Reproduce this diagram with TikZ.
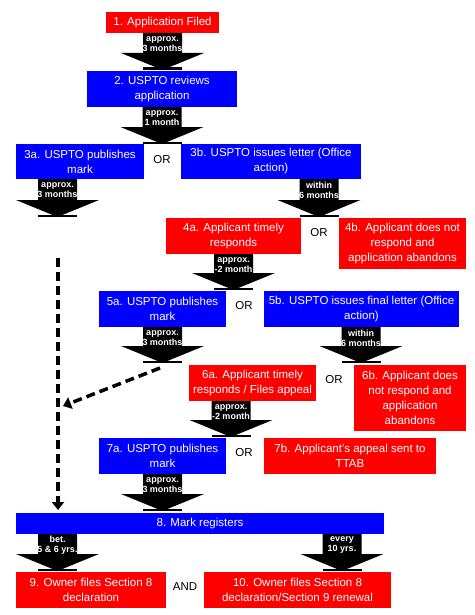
\documentclass[tikz,border=0pt]{standalone}
\usepackage{fontspec}
\setmainfont{Liberation Sans}
\usetikzlibrary{arrows.meta,calc}

\tikzset{
  box/.style={inner sep=0pt, align=center, text=white, font=\fontsize{11.5}{15}\selectfont},
  redbox/.style={box, fill=red},
  bluebox/.style={box, fill=blue},
  ortext/.style={font=\fontsize{11.5}{15}\selectfont},
  timelabel/.style={inner sep=0pt, align=center, text=white, font=\fontsize{9}{10}\selectfont\bfseries},
  dasharrow/.style={line width=3.5pt, dash pattern=on 9pt off 5pt, -{Triangle[width=12pt,length=8pt]}}
}

% block arrow from (#1) down to (#2), label #3
\newcommand{\timearrow}[3]{%
  \fill let \p1=(#1), \p2=(#2) in
    (\x1-19.5pt,\y1) -- (\x1+19.5pt,\y1) -- (\x1+19.5pt,\y2+17pt) -- (\x1+41.5pt,\y2+17pt)
    -- (\x1,\y2) -- (\x1-41.5pt,\y2+17pt) -- (\x1-19.5pt,\y2+17pt) -- cycle;
  \draw[line width=2.5pt] let \p1=(#1), \p2=(#2) in
    (\x1-19.5pt,\y2+1.25pt) -- (\x1+19.5pt,\y2+1.25pt);
  \node[timelabel] (#1-lbl) at ([yshift=-11pt]#1) {#3};}

\begin{document}
\begin{tikzpicture}[x=1pt, y=-1pt]
 \useasboundingbox (0,0) rectangle (474,615);

 % boxes
 \node[redbox,  minimum width=113pt, minimum height=21pt] (filed)   at (162.5,22.5) {1. Application Filed};
 \node[bluebox, minimum width=150pt, minimum height=36pt] (review)  at (162,89)     {2. USPTO reviews\\application};
 \node[bluebox, minimum width=128pt, minimum height=35pt] (pub3)    at (80,161.5)   {3a. USPTO publishes\\mark};
 \node[bluebox, minimum width=180pt, minimum height=35pt] (letter3) at (271,161.5)  {3b. USPTO issues letter (Office\\action)};
 \node[redbox,  minimum width=135pt, minimum height=36pt] (resp4)   at (233.5,236)  {4a. Applicant timely\\responds};
 \node[redbox,  minimum width=127pt, minimum height=51pt] (aband4)  at (402.5,243.5){4b. Applicant does not\\respond and\\application abandons};
 \node[bluebox, minimum width=127pt, minimum height=36pt] (pub5)    at (162.5,309)  {5a. USPTO publishes\\mark};
 \node[bluebox, minimum width=195pt, minimum height=36pt] (letter5) at (361.5,309)  {5b. USPTO issues final letter (Office\\action)};
 \node[redbox,  minimum width=127pt, minimum height=36pt] (resp6)   at (252.5,383)  {6a. Applicant timely\\responds / Files appeal};
 \node[redbox,  minimum width=112pt, minimum height=66pt] (aband6)  at (410,398)    {6b. Applicant does\\not respond and\\application\\abandons};
 \node[bluebox, minimum width=127pt, minimum height=36pt] (pub7)    at (162.5,456)  {7a. USPTO publishes\\mark};
 \node[redbox,  minimum width=172pt, minimum height=36pt] (ttab7)   at (350,456)    {7b. Applicant's appeal sent to\\TTAB};
 \node[bluebox, minimum width=368pt, minimum height=21pt] (reg)     at (200,523.5)  {8. Mark registers};
 \node[redbox,  minimum width=150pt, minimum height=36pt] (sec8)    at (91,590)     {9. Owner files Section 8\\declaration};
 \node[redbox,  minimum width=187pt, minimum height=36pt] (sec9)    at (297.5,590)  {10. Owner files Section 8\\declaration/Section 9 renewal};

 % or / and
 \node[ortext] (or3) at (162,160) {OR};
 \node[ortext] (or4) at (319,233) {OR};
 \node[ortext] (or5) at (244,306) {OR};
 \node[ortext] (or6) at (334,380) {OR};
 \node[ortext] (or7) at (244,453) {OR};
 \node[ortext] (and) at (185,587) {AND};

 % block arrows
 \coordinate (a1)  at (162.5,33);  \coordinate (a1t)  at (162.5,70);
 \coordinate (a2)  at (162,107);   \coordinate (a2t)  at (162,144);
 \coordinate (a3a) at (57.5,179);  \coordinate (a3at) at (57.5,217);
 \coordinate (a3b) at (319,179);   \coordinate (a3bt) at (319,217);
 \coordinate (a4)  at (233.5,254); \coordinate (a4t)  at (233.5,290);
 \coordinate (a5a) at (162.5,327); \coordinate (a5at) at (162.5,363);
 \coordinate (a5b) at (361,327);   \coordinate (a5bt) at (361,363);
 \coordinate (a6)  at (231,401);   \coordinate (a6t)  at (231,437);
 \coordinate (a7)  at (162.5,474); \coordinate (a7t)  at (162.5,511);
 \coordinate (a8l) at (57.5,534);  \coordinate (a8lt) at (57.5,571);
 \coordinate (a8r) at (342,534);   \coordinate (a8rt) at (342,571);

 \timearrow{a1}{a1t}{approx.\\3 months}
 \timearrow{a2}{a2t}{approx.\\1 month}
 \timearrow{a3a}{a3at}{approx.\\3 months}
 \timearrow{a3b}{a3bt}{within\\6 months}
 \timearrow{a4}{a4t}{approx.\\-2 month}
 \timearrow{a5a}{a5at}{approx.\\3 months}
 \timearrow{a5b}{a5bt}{within\\6 months}
 \timearrow{a6}{a6t}{approx.\\-2 month}
 \timearrow{a7}{a7t}{approx.\\3 months}
 \timearrow{a8l}{a8lt}{bet.\\5 \& 6 yrs.}
 \timearrow{a8r}{a8rt}{every\\10 yrs.}

 % dashed shortcuts
 \coordinate (d1) at (58,258);  \coordinate (d2) at (58,510);
 \coordinate (d3) at (160,368); \coordinate (d4) at (63,406);
 \draw[dasharrow] (d1) -- (d2);
 \draw[dasharrow] (d3) -- (d4);
\end{tikzpicture}
\end{document}
